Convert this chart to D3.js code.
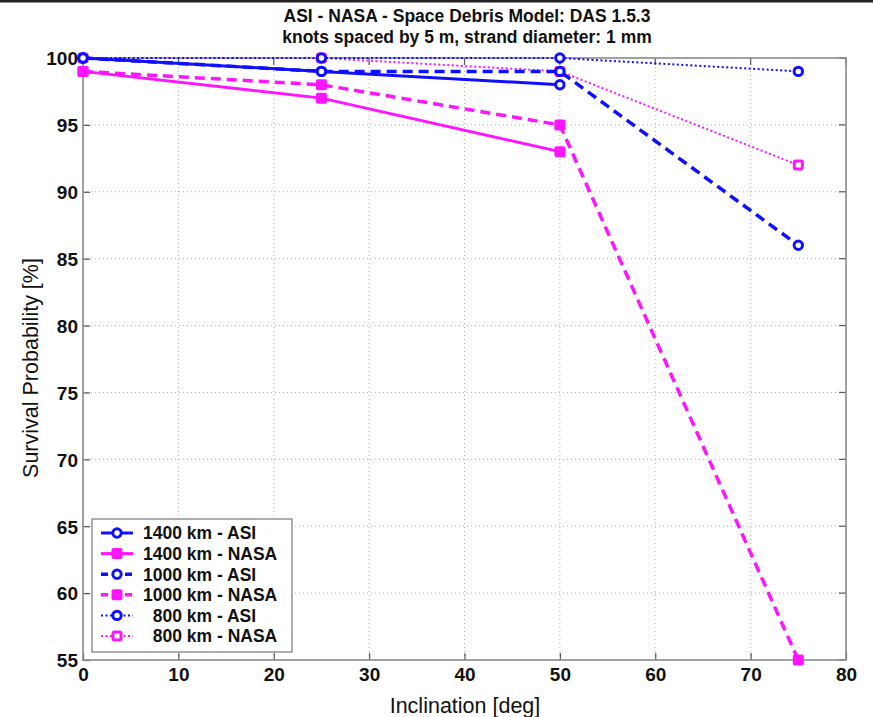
<!DOCTYPE html>
<html>
<head>
<meta charset="utf-8">
<script src="https://cdn.jsdelivr.net/npm/d3@7"></script>
<style>
  body { margin: 0; background: #fff; }
  svg text { font-family: Arial, "Liberation Sans", Helvetica, sans-serif; fill: #111; }
</style>
</head>
<body>
<div id="chart"></div>
<script>
// survival probability vs inclination, six runs
var inclinations = [0, 25, 50, 75];
var asi1400  = [100, 99, 98, null];
var nasa1400 = [99, 97, 93, null];
var asi1000  = [100, 99, 99, 86];
var nasa1000 = [99, 98, 95, 55];
var asi800   = [100, 100, 100, 99];
var nasa800  = [100, 100, 99, 92];
var xTicks = [0, 10, 20, 30, 40, 50, 60, 70, 80];
var yTicks = [55, 60, 65, 70, 75, 80, 85, 90, 95, 100];

var blue = "#1010ff", magenta = "#ff14ff";

// drawing order: dotted first, solid last
var series = [
  { name: "  800 km - NASA", vals: nasa800,  color: magenta, dash: "2,2.5", w: 2,   mark: "sqHole" },
  { name: "  800 km - ASI",  vals: asi800,   color: blue,    dash: "2,2.5", w: 2,   mark: "circle" },
  { name: "1000 km - NASA",  vals: nasa1000, color: magenta, dash: "10,6",  w: 3.5, mark: "square" },
  { name: "1000 km - ASI",   vals: asi1000,  color: blue,    dash: "10,6",  w: 3.5, mark: "circle" },
  { name: "1400 km - NASA",  vals: nasa1400, color: magenta, dash: null,    w: 3,   mark: "square" },
  { name: "1400 km - ASI",   vals: asi1400,  color: blue,    dash: null,    w: 3,   mark: "circle" }
];
var legendOrder = [5, 4, 3, 2, 1, 0];

var width = 873, height = 717;
var margin = { top: 58, right: 27, bottom: 57, left: 83 };

var svg = d3.select("#chart").append("svg")
    .attr("width", width)
    .attr("height", height);

// top rule of the figure
svg.append("rect").attr("x", 0).attr("y", 0).attr("width", width).attr("height", 2.5).attr("fill", "#222");

var xScale = d3.scaleLinear().domain([0, 80]).range([margin.left, width - margin.right]);
var yScale = d3.scaleLinear().domain([55, 100]).range([height - margin.bottom, margin.top]);

var g = svg.append("g");

// grid
g.selectAll("line.gx").data(xTicks.slice(1, -1)).enter().append("line")
    .attr("x1", d => xScale(d)).attr("x2", d => xScale(d))
    .attr("y1", yScale(55)).attr("y2", yScale(100))
    .attr("stroke", "#b0b0b0").attr("stroke-width", 1).attr("stroke-dasharray", "1,3");
g.selectAll("line.gy").data(yTicks.slice(1, -1)).enter().append("line")
    .attr("y1", d => yScale(d)).attr("y2", d => yScale(d))
    .attr("x1", xScale(0)).attr("x2", xScale(80))
    .attr("stroke", "#b0b0b0").attr("stroke-width", 1).attr("stroke-dasharray", "1,3");

// axes
var xAxis = d3.axisBottom(xScale).tickValues(xTicks).tickSize(-7).tickPadding(11);
var yAxis = d3.axisLeft(yScale).tickValues(yTicks).tickSize(-7).tickPadding(5);

var gx = svg.append("g").attr("transform", "translate(0," + yScale(55) + ")").call(xAxis);
var gy = svg.append("g").attr("transform", "translate(" + xScale(0) + ",0)").call(yAxis);
[gx, gy].forEach(function(a) {
  a.select(".domain").remove();
  a.selectAll(".tick line").attr("stroke", "#555").attr("stroke-width", 1.2);
  a.selectAll(".tick text").attr("font-size", 19).attr("font-weight", "bold").attr("fill", "#111");
});
gx.selectAll(".tick text").attr("dy", "0.55em");
gy.selectAll(".tick text").attr("dy", "0.36em");
// ticks on right/top too
svg.selectAll("line.rt").data(yTicks).enter().append("line")
    .attr("x1", xScale(80)).attr("x2", xScale(80) - 7)
    .attr("y1", d => yScale(d)).attr("y2", d => yScale(d))
    .attr("stroke", "#555").attr("stroke-width", 1.2);
svg.selectAll("line.tt").data(xTicks).enter().append("line")
    .attr("y1", yScale(100)).attr("y2", yScale(100) + 7)
    .attr("x1", d => xScale(d)).attr("x2", d => xScale(d))
    .attr("stroke", "#555").attr("stroke-width", 1.2);

// frame
svg.append("rect")
    .attr("x", xScale(0)).attr("y", yScale(100))
    .attr("width", xScale(80) - xScale(0)).attr("height", yScale(55) - yScale(100))
    .attr("fill", "none").attr("stroke", "#8a8a8a").attr("stroke-width", 1.6);

// lines + markers
var line = d3.line()
    .defined(d => d[1] != null)
    .x(d => xScale(d[0])).y(d => yScale(d[1]));

function drawMarker(sel, s, x, y) {
  if (s.mark == "circle") {
    sel.append("circle").attr("cx", x).attr("cy", y).attr("r", 4.2)
      .attr("fill", "#fff").attr("stroke", s.color).attr("stroke-width", 3);
  } else if (s.mark == "square") {
    sel.append("rect").attr("x", x - 5.5).attr("y", y - 5.5).attr("width", 11).attr("height", 11)
      .attr("rx", 2).attr("fill", s.color);
  } else {
    sel.append("rect").attr("x", x - 4).attr("y", y - 4).attr("width", 8).attr("height", 8)
      .attr("rx", 1.5).attr("fill", "#fff").attr("stroke", s.color).attr("stroke-width", 3);
  }
}

series.forEach(function(s) {
  var pts = inclinations.map((x, i) => [x, s.vals[i]]);
  svg.append("path").datum(pts)
    .attr("d", line)
    .attr("fill", "none")
    .attr("stroke", s.color)
    .attr("stroke-width", s.w)
    .attr("stroke-dasharray", s.dash);
  var mg = svg.append("g");
  pts.filter(d => d[1] != null).forEach(function(d) {
    drawMarker(mg, s, xScale(d[0]), yScale(d[1]));
  });
});

// legend
var lg = svg.append("g");
lg.append("rect").attr("x", 92).attr("y", 519).attr("width", 200).attr("height", 133)
    .attr("fill", "#fff").attr("stroke", "#8a8a8a").attr("stroke-width", 1.4);
legendOrder.forEach(function(idx, i) {
  var s = series[idx];
  var y = 533 + i * 20.6;
  lg.append("line").attr("x1", 101).attr("x2", 133).attr("y1", y).attr("y2", y)
    .attr("stroke", s.color).attr("stroke-width", s.w)
    .attr("stroke-dasharray", s.dash ? (s.dash == "10,6" ? "7,5" : s.dash) : null);
  drawMarker(lg, s, 117, y);
  lg.append("text").attr("x", 143).attr("y", y).attr("dy", "0.36em")
    .attr("font-size", 17.5).attr("font-weight", "bold")
    .attr("xml:space", "preserve").style("white-space", "pre")
    .text(s.name);
});

// titles
svg.append("text").attr("x", 467).attr("y", 22).attr("text-anchor", "middle")
    .attr("font-size", 17.5).attr("font-weight", "bold")
    .text("ASI - NASA - Space Debris Model: DAS 1.5.3");
svg.append("text").attr("x", 467).attr("y", 43).attr("text-anchor", "middle")
    .attr("font-size", 17.5).attr("font-weight", "bold")
    .text("knots spaced by 5 m, strand diameter: 1 mm");
svg.append("text").attr("x", 465).attr("y", 713).attr("text-anchor", "middle")
    .attr("font-size", 21.5)
    .text("Inclination [deg]");
svg.append("text").attr("transform", "translate(38,368) rotate(-90)").attr("text-anchor", "middle")
    .attr("font-size", 21.5)
    .text("Survival Probability [%]");
</script>
</body>
</html>
